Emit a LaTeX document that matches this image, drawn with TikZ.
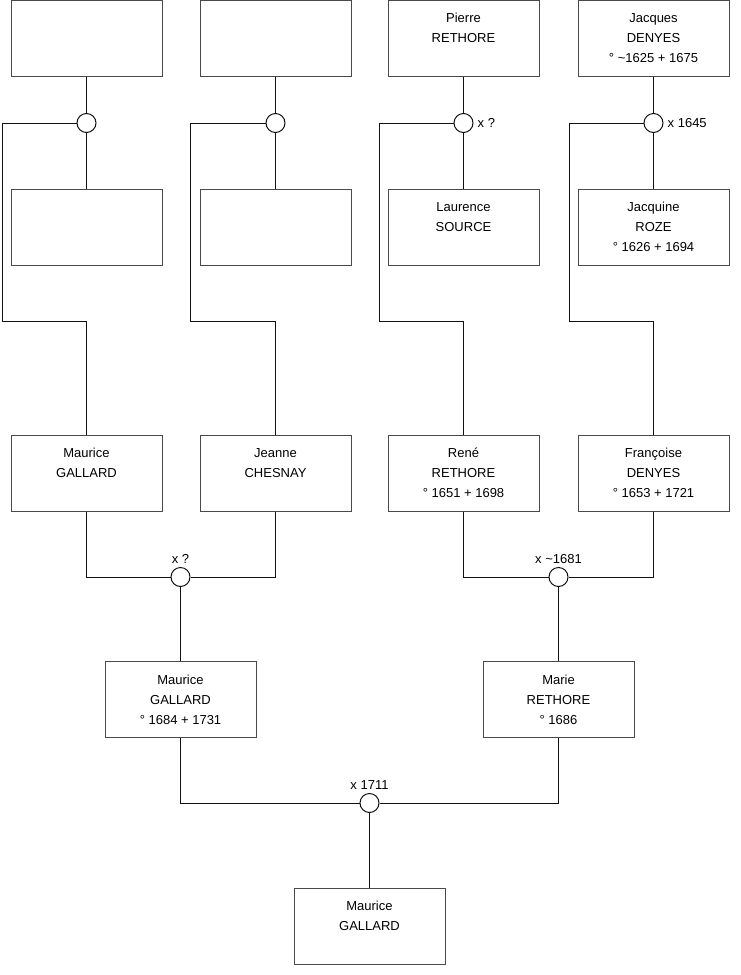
\documentclass[tikz,border=0pt]{standalone}
\usepackage{fontspec}
\setmainfont{Liberation Sans}
\usetikzlibrary{positioning}
\definecolor{ink}{HTML}{111111}
\definecolor{frame}{HTML}{4A4A4A}

\begin{document}
\begin{tikzpicture}[x=1pt,y=-1pt,
  person/.style={draw=frame,line width=1pt,fill=white,minimum width=151pt,minimum height=76pt,
    inner sep=0pt,align=center,font=\fontsize{13}{20}\selectfont},
  union/.style={circle,draw=ink,line width=1pt,fill=white,minimum size=19pt,inner sep=0pt},
  date/.style={font=\fontsize{13}{15}\selectfont,inner sep=1pt},
  link/.style={draw=ink,line width=1pt}]
\useasboundingbox (0,0) rectangle (740,975);

\node[person] (top1) at (86.5,38) {};
\node[person] (top2) at (275.5,38) {};
\node[person] (top3) at (463.5,38) {Pierre\\RETHORE\\\mbox{}};
\node[person] (top4) at (653.5,38) {Jacques\\DENYES\\° \textasciitilde1625 + 1675};

\node[person] (wife1) at (86.5,227) {};
\node[person] (wife2) at (275.5,227) {};
\node[person] (wife3) at (463.5,227) {Laurence\\SOURCE\\\mbox{}};
\node[person] (wife4) at (653.5,227) {Jacquine\\ROZE\\° 1626 + 1694};

\node[person] (kid1) at (86.5,473) {Maurice\\GALLARD\\\mbox{}};
\node[person] (kid2) at (275.5,473) {Jeanne\\CHESNAY\\\mbox{}};
\node[person] (kid3) at (463.5,473) {René\\RETHORE\\° 1651 + 1698};
\node[person] (kid4) at (653.5,473) {Françoise\\DENYES\\° 1653 + 1721};

\node[person] (gen1) at (180.5,699.5) {Maurice\\GALLARD\\° 1684 + 1731};
\node[person] (gen2) at (558.5,699.5) {Marie\\RETHORE\\° 1686};

\node[person] (last) at (369.5,926) {Maurice\\GALLARD\\\mbox{}};

\foreach \i/\xx/\sx in {1/86.5/2,2/275.5/190,3/463.5/379,4/653.5/569}{
  \node[union] (mar\i) at (\xx,123) {};
  \coordinate (bend\i) at (\sx,321);
  \draw[link] (top\i) -- (mar\i);
  \draw[link] (mar\i) -- (wife\i);
  \draw[link] (mar\i.west) -| (bend\i) -| (kid\i.north);
}
\node[date,right=3pt of mar3] (lab3) {x ?};
\node[date,right=3pt of mar4] (lab4) {x 1645};

\node[union] (pair1) at (180.5,577) {};
\node[union] (pair2) at (558.5,577) {};
\node[union] (pair3) at (369.5,803) {};
\node[date,above=2pt of pair1] (lab5) {x ?};
\node[date,above=2pt of pair2] (lab6) {x \textasciitilde1681};
\node[date,above=2pt of pair3] (lab7) {x 1711};

\draw[link] (kid1.south) |- (pair1.west);
\draw[link] (kid2.south) |- (pair1.east);
\draw[link] (pair1) -- (gen1);
\draw[link] (kid3.south) |- (pair2.west);
\draw[link] (kid4.south) |- (pair2.east);
\draw[link] (pair2) -- (gen2);
\draw[link] (gen1.south) |- (pair3.west);
\draw[link] (gen2.south) |- (pair3.east);
\draw[link] (pair3) -- (last);
\end{tikzpicture}
\end{document}
